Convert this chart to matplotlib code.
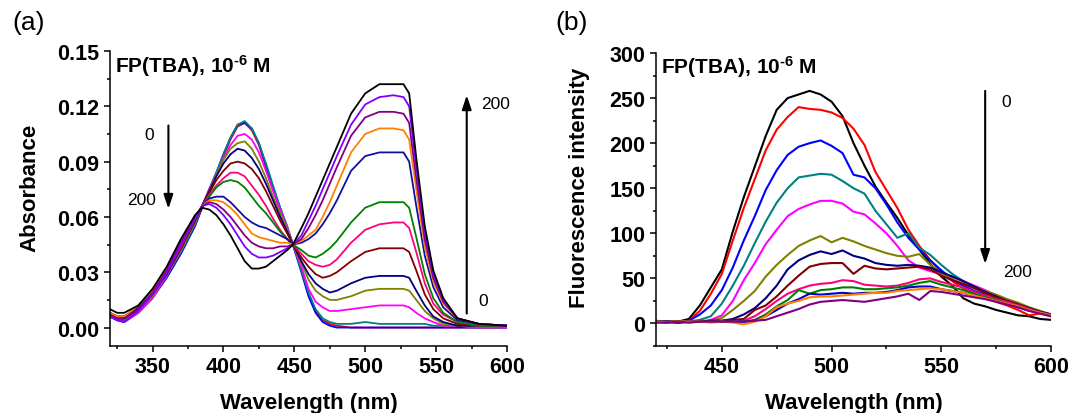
import matplotlib
matplotlib.use('Agg')
import matplotlib.pyplot as plt
from matplotlib.ticker import MultipleLocator, FormatStrFormatter

plt.rcParams['font.family'] = ['Liberation Sans', 'DejaVu Sans']
plt.rcParams['font.weight'] = 'bold'
plt.rcParams['axes.labelweight'] = 'bold'
plt.rcParams['mathtext.default'] = 'regular'

# ---------------- (a) absorbance titration ----------------
wl_a = [320, 325, 330, 340, 350, 360, 370, 380, 385, 390, 395, 400, 405, 410,
        415, 420, 425, 430, 435, 440, 445, 449, 455, 460, 465, 470, 475, 480,
        490, 500, 510, 520, 527, 531, 536, 542, 548, 555, 565, 580, 600]

abs_red = [0.006, 0.004, 0.004, 0.009, 0.017, 0.028, 0.041, 0.056, 0.065, 0.074, 0.083,
           0.093, 0.102, 0.109, 0.111, 0.107, 0.099, 0.087, 0.075, 0.064, 0.054, 0.045,
           0.031, 0.018, 0.009, 0.004, 0.002, 0.001, 0.000, 0.000, 0.000, 0.000, 0.000,
           0.000, 0.000, 0.000, 0.000, 0.000, 0.000, 0.000, 0.000]
abs_blue = [0.006, 0.004, 0.003, 0.008, 0.016, 0.027, 0.040, 0.055, 0.065, 0.075, 0.084,
            0.094, 0.103, 0.110, 0.111, 0.108, 0.100, 0.088, 0.076, 0.065, 0.054, 0.045,
            0.030, 0.017, 0.008, 0.003, 0.001, 0.000, 0.000, 0.000, 0.000, 0.000, 0.000,
            0.000, 0.000, 0.000, 0.000, 0.000, 0.000, 0.000, 0.000]
abs_teal = [0.007, 0.005, 0.004, 0.009, 0.017, 0.028, 0.041, 0.056, 0.066, 0.075, 0.084,
            0.094, 0.103, 0.110, 0.112, 0.108, 0.100, 0.089, 0.077, 0.065, 0.055, 0.045,
            0.031, 0.019, 0.010, 0.005, 0.003, 0.002, 0.002, 0.003, 0.002, 0.002, 0.002,
            0.002, 0.002, 0.002, 0.001, 0.001, 0.001, 0.000, 0.000]
abs_magenta = [0.006, 0.004, 0.003, 0.008, 0.016, 0.028, 0.042, 0.057, 0.066, 0.075, 0.083,
               0.092, 0.099, 0.104, 0.105, 0.102, 0.095, 0.085, 0.074, 0.064, 0.054, 0.045,
               0.033, 0.021, 0.014, 0.011, 0.009, 0.009, 0.010, 0.011, 0.012, 0.012, 0.012,
               0.011, 0.008, 0.005, 0.003, 0.001, 0.001, 0.000, 0.000]
abs_olive = [0.007, 0.005, 0.005, 0.009, 0.017, 0.029, 0.042, 0.057, 0.066, 0.074, 0.083,
             0.091, 0.097, 0.100, 0.101, 0.097, 0.090, 0.081, 0.071, 0.062, 0.053, 0.045,
             0.035, 0.026, 0.020, 0.017, 0.015, 0.015, 0.017, 0.020, 0.021, 0.021, 0.021,
             0.020, 0.015, 0.009, 0.005, 0.002, 0.001, 0.001, 0.001]
abs_navy = [0.007, 0.005, 0.005, 0.010, 0.018, 0.029, 0.043, 0.058, 0.066, 0.074, 0.082,
            0.089, 0.094, 0.097, 0.096, 0.092, 0.086, 0.078, 0.069, 0.060, 0.052, 0.045,
            0.036, 0.029, 0.024, 0.021, 0.019, 0.020, 0.024, 0.027, 0.028, 0.028, 0.028,
            0.027, 0.020, 0.012, 0.006, 0.003, 0.001, 0.001, 0.001]
abs_maroon = [0.008, 0.006, 0.005, 0.010, 0.018, 0.030, 0.043, 0.058, 0.066, 0.073, 0.080,
              0.085, 0.089, 0.090, 0.089, 0.086, 0.081, 0.074, 0.066, 0.058, 0.051, 0.045,
              0.038, 0.033, 0.029, 0.027, 0.028, 0.030, 0.036, 0.041, 0.043, 0.043, 0.043,
              0.041, 0.031, 0.018, 0.010, 0.005, 0.002, 0.001, 0.001]
abs_pink = [0.007, 0.005, 0.005, 0.010, 0.018, 0.030, 0.044, 0.059, 0.066, 0.072, 0.077,
            0.081, 0.084, 0.084, 0.082, 0.077, 0.072, 0.066, 0.059, 0.053, 0.048, 0.045,
            0.040, 0.036, 0.034, 0.033, 0.034, 0.037, 0.046, 0.053, 0.056, 0.057, 0.057,
            0.054, 0.041, 0.024, 0.013, 0.007, 0.003, 0.001, 0.001]
abs_green = [0.008, 0.006, 0.006, 0.011, 0.019, 0.031, 0.045, 0.059, 0.066, 0.071, 0.076,
             0.079, 0.080, 0.079, 0.076, 0.071, 0.066, 0.062, 0.057, 0.052, 0.048, 0.045,
             0.042, 0.039, 0.038, 0.040, 0.043, 0.047, 0.057, 0.065, 0.068, 0.068, 0.068,
             0.065, 0.049, 0.029, 0.016, 0.008, 0.003, 0.001, 0.001]
abs_navy2 = [0.008, 0.006, 0.006, 0.011, 0.020, 0.032, 0.046, 0.060, 0.066, 0.070, 0.071,
             0.071, 0.068, 0.064, 0.060, 0.057, 0.055, 0.054, 0.052, 0.050, 0.048, 0.045,
             0.046, 0.048, 0.051, 0.056, 0.062, 0.069, 0.085, 0.093, 0.095, 0.095, 0.095,
             0.090, 0.066, 0.039, 0.022, 0.011, 0.004, 0.002, 0.001]
abs_orange = [0.008, 0.006, 0.006, 0.012, 0.020, 0.032, 0.046, 0.060, 0.066, 0.069, 0.069,
              0.068, 0.065, 0.061, 0.056, 0.051, 0.049, 0.048, 0.047, 0.046, 0.046, 0.045,
              0.047, 0.050, 0.053, 0.060, 0.068, 0.077, 0.095, 0.105, 0.108, 0.108, 0.107,
              0.102, 0.075, 0.044, 0.025, 0.013, 0.005, 0.002, 0.001]
abs_purple = [0.007, 0.005, 0.005, 0.010, 0.019, 0.031, 0.046, 0.060, 0.066, 0.068, 0.067,
              0.064, 0.060, 0.055, 0.050, 0.046, 0.044, 0.043, 0.043, 0.044, 0.044, 0.045,
              0.048, 0.054, 0.061, 0.069, 0.078, 0.087, 0.104, 0.114, 0.117, 0.117, 0.116,
              0.111, 0.081, 0.048, 0.027, 0.014, 0.005, 0.002, 0.001]
abs_violet = [0.006, 0.004, 0.003, 0.009, 0.018, 0.030, 0.045, 0.059, 0.066, 0.067, 0.065,
              0.061, 0.056, 0.050, 0.044, 0.040, 0.038, 0.038, 0.039, 0.041, 0.043, 0.045,
              0.050, 0.058, 0.066, 0.075, 0.084, 0.093, 0.110, 0.121, 0.125, 0.126, 0.125,
              0.120, 0.087, 0.052, 0.029, 0.015, 0.005, 0.002, 0.001]
abs_black = [0.010, 0.008, 0.008, 0.012, 0.021, 0.033, 0.048, 0.061, 0.065, 0.064, 0.061,
             0.056, 0.050, 0.043, 0.036, 0.032, 0.032, 0.033, 0.036, 0.039, 0.042, 0.045,
             0.054, 0.062, 0.071, 0.080, 0.089, 0.098, 0.116, 0.127, 0.132, 0.132, 0.132,
             0.127, 0.092, 0.055, 0.031, 0.016, 0.005, 0.002, 0.001]

abs_curves = [abs_red, abs_blue, abs_teal, abs_magenta, abs_olive, abs_navy, abs_maroon,
              abs_pink, abs_green, abs_navy2, abs_orange, abs_purple, abs_violet, abs_black]
abs_colors = ['#FF0000', '#0000FF', '#008080', '#FF00FF', '#808000', '#000080', '#800000',
              '#FF0080', '#008000', '#1010A0', '#FF8000', '#800080', '#8000FF', '#000000']

# ---------------- (b) fluorescence titration ----------------
wl_b = [420, 425, 430, 435, 440, 445, 450, 455, 460, 465, 470, 475, 480, 485, 490,
        495, 500, 505, 510, 515, 520, 525, 530, 535, 540, 545, 550, 555, 560, 565,
        570, 575, 580, 585, 590, 595, 600]

fl_black = [2, 1, 2, 5, 20, 40, 60, 102, 140, 174, 208, 237, 250, 254, 258, 254, 246, 230,
            200, 175, 152, 134, 117, 98, 82, 66, 52, 42, 28, 22, 19, 15, 12, 9, 8, 5, 4]
fl_red = [3, 2, 2, 3, 14, 33, 55, 92, 128, 160, 192, 215, 229, 240, 238, 237, 234, 228,
          216, 198, 168, 148, 128, 104, 86, 70, 57, 47, 39, 33, 28, 24, 20, 15, 9, 11, 8]
fl_blue = [2, 1, 2, 3, 10, 20, 37, 62, 92, 119, 148, 170, 187, 196, 200, 203, 197, 189,
           165, 162, 150, 132, 112, 95, 82, 70, 59, 49, 42, 36, 32, 28, 23, 18, 14, 12, 10]
fl_teal = [2, 2, 1, 2, 4, 8, 22, 42, 64, 89, 113, 134, 150, 162, 164, 166, 165, 158,
           150, 144, 125, 110, 95, 100, 84, 76, 65, 55, 47, 40, 34, 29, 25, 21, 17, 13, 10]
fl_magenta = [2, 2, 1, 2, 2, 4, 9, 25, 48, 67, 88, 104, 119, 127, 132, 136, 136, 133,
              124, 121, 111, 100, 86, 70, 62, 58, 55, 52, 47, 42, 37, 31, 26, 21, 17, 12, 8]
fl_olive = [2, 2, 2, 1, 2, 3, 6, 15, 25, 36, 52, 65, 76, 86, 92, 97, 90, 95,
            91, 86, 82, 78, 75, 74, 77, 65, 56, 49, 44, 40, 36, 32, 27, 23, 18, 14, 10]
fl_navy = [2, 2, 1, 2, 2, 3, 3, 5, 10, 17, 28, 42, 60, 70, 76, 80, 77, 81,
           75, 72, 67, 65, 64, 65, 64, 62, 57, 52, 47, 41, 35, 30, 25, 21, 17, 13, 10]
fl_maroon = [2, 2, 2, 2, 2, 3, 3, 4, 5, 15, 20, 30, 42, 53, 63, 66, 67, 67,
             55, 64, 61, 60, 61, 62, 63, 60, 53, 48, 44, 39, 34, 29, 25, 21, 17, 13, 10]
fl_pink = [2, 2, 2, 2, 2, 2, 2, 2, 3, 8, 16, 25, 33, 38, 42, 44, 45, 48,
           47, 43, 42, 41, 42, 45, 49, 50, 46, 43, 40, 35, 31, 27, 24, 20, 16, 12, 9]
fl_green = [2, 2, 2, 2, 2, 2, 2, 2, 2, 4, 10, 19, 26, 37, 33, 37, 38, 40,
            40, 38, 38, 39, 40, 42, 45, 47, 43, 40, 37, 33, 29, 26, 22, 19, 15, 12, 9]
fl_blue2 = [1, 2, 1, 2, 2, 2, 2, 2, 2, 3, 8, 15, 22, 27, 33, 32, 33, 34,
            33, 34, 34, 35, 37, 40, 41, 41, 38, 36, 34, 31, 28, 25, 22, 18, 15, 12, 9]
fl_orange = [2, 1, 2, 2, 2, 1, 2, 1, -1, 2, 8, 18, 22, 25, 29, 30, 30, 31,
             32, 33, 34, 34, 36, 37, 38, 39, 38, 36, 34, 31, 28, 25, 22, 19, 15, 12, 9]
fl_purple = [1, 1, 2, 1, 2, 2, 2, 2, 2, 3, 4, 8, 12, 16, 21, 24, 25, 26,
             25, 24, 26, 28, 30, 33, 26, 36, 35, 33, 31, 29, 27, 24, 21, 18, 14, 11, 8]

fl_curves = [fl_black, fl_red, fl_blue, fl_teal, fl_magenta, fl_olive, fl_navy,
             fl_maroon, fl_pink, fl_green, fl_blue2, fl_orange, fl_purple]
fl_colors = ['#000000', '#FF0000', '#0000FF', '#008080', '#FF00FF', '#808000', '#000080',
             '#800000', '#FF0080', '#008000', '#0000CC', '#FF8000', '#800080']

title_text = 'FP(TBA), 10$^{\u2010 6}$ M'


def style_axes(ax):
    for s in ['top', 'right']:
        ax.spines[s].set_visible(False)
    for s in ['left', 'bottom']:
        ax.spines[s].set_linewidth(1.1)
    ax.tick_params(which='major', direction='out', length=4, width=1.1,
                   labelsize=15.5, pad=3.5)
    ax.tick_params(which='minor', direction='out', length=2.5, width=1.1)


def arrow(ax, x, y0, y1):
    ax.annotate('', xy=(x, y1), xytext=(x, y0),
                arrowprops=dict(arrowstyle='-|>,head_length=0.6,head_width=0.2',
                                mutation_scale=14, lw=1.5, color='k',
                                shrinkA=0, shrinkB=0))


fig = plt.figure(figsize=(10.71, 4.14), dpi=100)
ax_a = fig.add_axes([110 / 1071, 67 / 414, 397 / 1071, 295 / 414])
ax_b = fig.add_axes([656 / 1071, 67 / 414, 395 / 1071, 293 / 414])

# (a)
for ys, c in zip(abs_curves, abs_colors):
    ax_a.plot(wl_a, ys, color=c, lw=1.3)
ax_a.set_xlim(320, 600)
ax_a.set_ylim(-0.01, 0.15)
ax_a.xaxis.set_major_locator(MultipleLocator(50))
ax_a.xaxis.set_minor_locator(MultipleLocator(25))
ax_a.yaxis.set_major_locator(MultipleLocator(0.03))
ax_a.yaxis.set_minor_locator(MultipleLocator(0.015))
ax_a.yaxis.set_major_formatter(FormatStrFormatter('%.2f'))
style_axes(ax_a)
ax_a.set_xlabel('Wavelength (nm)', fontsize=16, fontweight='bold')
ax_a.set_ylabel('Absorbance', fontsize=16, fontweight='bold')
ax_a.xaxis.set_label_coords(0.5, -0.155)
ax_a.yaxis.set_label_coords(-0.174, 0.54)
ax_a.text(0.013, 0.930, title_text, transform=ax_a.transAxes, fontsize=15,
          ha='left', va='baseline')
arrow(ax_a, 361.2, 0.1096, 0.0644)
ax_a.text(347.7, 0.1045, '0', fontsize=12.5, fontweight='normal', ha='center', va='center')
ax_a.text(342.3, 0.0695, '200', fontsize=12.5, fontweight='normal', ha='center', va='center')
arrow(ax_a, 571.6, 0.0076, 0.1260)
ax_a.text(591.6, 0.1213, '200', fontsize=12.5, fontweight='normal', ha='center', va='center')
ax_a.text(583.3, 0.0148, '0', fontsize=12.5, fontweight='normal', ha='center', va='center')

# (b)
for ys, c in zip(fl_curves, fl_colors):
    ax_b.plot(wl_b, ys, color=c, lw=1.5)
ax_b.set_xlim(420, 600)
ax_b.set_ylim(-25, 300)
ax_b.xaxis.set_major_locator(MultipleLocator(50))
ax_b.xaxis.set_minor_locator(MultipleLocator(25))
ax_b.yaxis.set_major_locator(MultipleLocator(50))
ax_b.yaxis.set_minor_locator(MultipleLocator(25))
style_axes(ax_b)
ax_b.set_xlabel('Wavelength (nm)', fontsize=16, fontweight='bold')
ax_b.set_ylabel('Fluorescence intensity', fontsize=16, fontweight='bold')
ax_b.xaxis.set_label_coords(0.5, -0.156)
ax_b.yaxis.set_label_coords(-0.167, 0.544)
ax_b.text(0.013, 0.932, title_text, transform=ax_b.transAxes, fontsize=15,
          ha='left', va='baseline')
arrow(ax_b, 570, 258, 66)
ax_b.text(579.4, 246, '0', fontsize=12.5, fontweight='normal', ha='center', va='center')
ax_b.text(584.8, 58, '200', fontsize=12.5, fontweight='normal', ha='center', va='center')

fig.text(12 / 1071, 1 - 23 / 414, '(a)', fontsize=19, fontweight='normal', va='center')
fig.text(555 / 1071, 1 - 23 / 414, '(b)', fontsize=19, fontweight='normal', va='center')

fig.savefig('out.png', dpi=100)
